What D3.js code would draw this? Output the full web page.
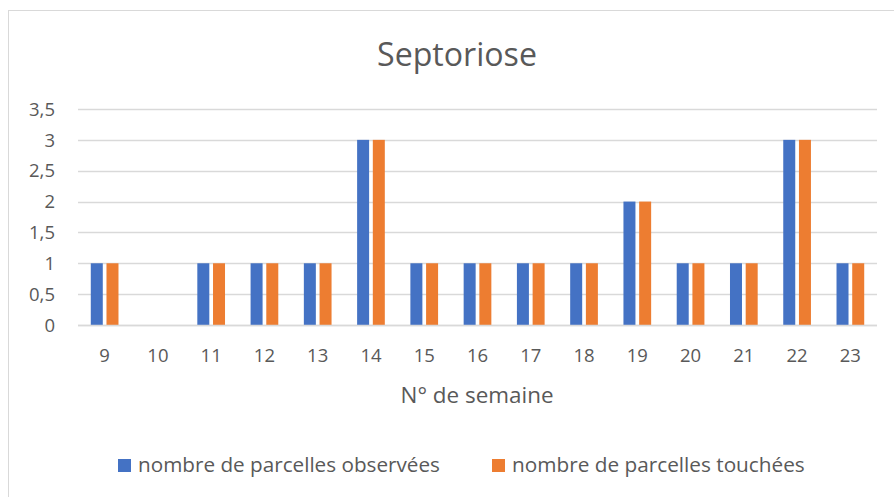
<!DOCTYPE html>
<html><head><meta charset="utf-8">
<script src="https://cdn.jsdelivr.net/npm/d3@7"></script>
<style>body{margin:0;background:#fff}svg{display:block}</style>
</head><body><svg id="c" width="894" height="497"></svg>
<script>
const weeks = ["9","10","11","12","13","14","15","16","17","18","19","20","21","22","23"];
const observed = [1,0,1,1,1,3,1,1,1,1,2,1,1,3,1];
const touched  = [1,0,1,1,1,3,1,1,1,1,2,1,1,3,1];
const seriesNames = ["nombre de parcelles observées","nombre de parcelles touchées"];
const seriesColors = ["#4472C4","#ED7D31"];
const yTicks = [0,0.5,1,1.5,2,2.5,3,3.5];
const title = "Septoriose";
const xTitle = "N° de semaine";

const svg = d3.select("#c");
const font = "'Open Sans', 'Liberation Sans', sans-serif";
const textColor = "#595959";
const gridColor = "#d9d9d9";

// chart border
svg.append("rect").attr("x",8.5).attr("y",10.5).attr("width",1000).attr("height",600)
  .attr("fill","none").attr("stroke",gridColor).attr("stroke-width",1);

const L=78, R=877, T=109, B=325;
const y = d3.scaleLinear().domain([0,3.5]).range([B,T]);
const x = d3.scaleBand().domain(weeks).range([L,R]).paddingInner(0.48).paddingOuter(0.24);
const x1 = d3.scaleBand().domain([0,1]).range([0,x.bandwidth()]).paddingInner(0.236);

function fit(sel, target){
  const n = sel.node();
  const w = n.getComputedTextLength();
  const fs = parseFloat(sel.attr("font-size"));
  sel.attr("font-size", fs*target/w);
}

// gridlines
svg.append("g").selectAll("line").data(yTicks).join("line")
  .attr("x1",L).attr("x2",R).attr("y1",d=>Math.round(y(d))+0.5).attr("y2",d=>Math.round(y(d))+0.5)
  .attr("stroke",gridColor).attr("stroke-width",1.3);

// y axis labels
const fmt = d=>String(d).replace(".",",");
svg.append("g").selectAll("text").data(yTicks).join("text")
  .attr("x",55).attr("y",d=>y(d)).attr("dy","0.36em").attr("text-anchor","end")
  .attr("font-family",font).attr("font-size",18.5).attr("fill",textColor).text(fmt);

// bars
const series = [observed, touched];
series.forEach((vals,si)=>{
  svg.append("g").selectAll("rect").data(vals).join("rect")
    .attr("x",(d,i)=>x(weeks[i])+x1(si))
    .attr("width",x1.bandwidth())
    .attr("y",d=>y(d))
    .attr("height",d=>y(0)-y(d))
    .attr("fill",seriesColors[si]);
});

// x axis line
svg.append("line").attr("x1",L).attr("x2",R).attr("y1",Math.round(y(0))+0.5).attr("y2",Math.round(y(0))+0.5)
  .attr("stroke",gridColor).attr("stroke-width",1.5);

// x labels
svg.append("g").selectAll("text").data(weeks).join("text")
  .attr("x",d=>x(d)+x.bandwidth()/2).attr("y",362).attr("text-anchor","middle")
  .attr("font-family",font).attr("font-size",18.5).attr("fill",textColor).text(d=>d);

// title
const t = svg.append("text").attr("x",457).attr("y",66).attr("text-anchor","middle")
  .attr("font-family",font).attr("font-size",26).attr("fill",textColor).text(title);
fit(t,160);

// x title
const xt = svg.append("text").attr("x",477).attr("y",403).attr("text-anchor","middle")
  .attr("font-family",font).attr("font-size",18).attr("fill",textColor).text(xTitle);
fit(xt,153);

// legend
const legX = [118, 492];
const legW = [302, 293];
seriesNames.forEach((n,i)=>{
  svg.append("rect").attr("x",legX[i]).attr("y",459).attr("width",13).attr("height",13).attr("fill",seriesColors[i]);
  const lt = svg.append("text").attr("x",legX[i]+20).attr("y",472).attr("font-family",font)
    .attr("font-size",16).attr("fill",textColor).text(n);
  fit(lt,legW[i]);
});
</script></body></html>
